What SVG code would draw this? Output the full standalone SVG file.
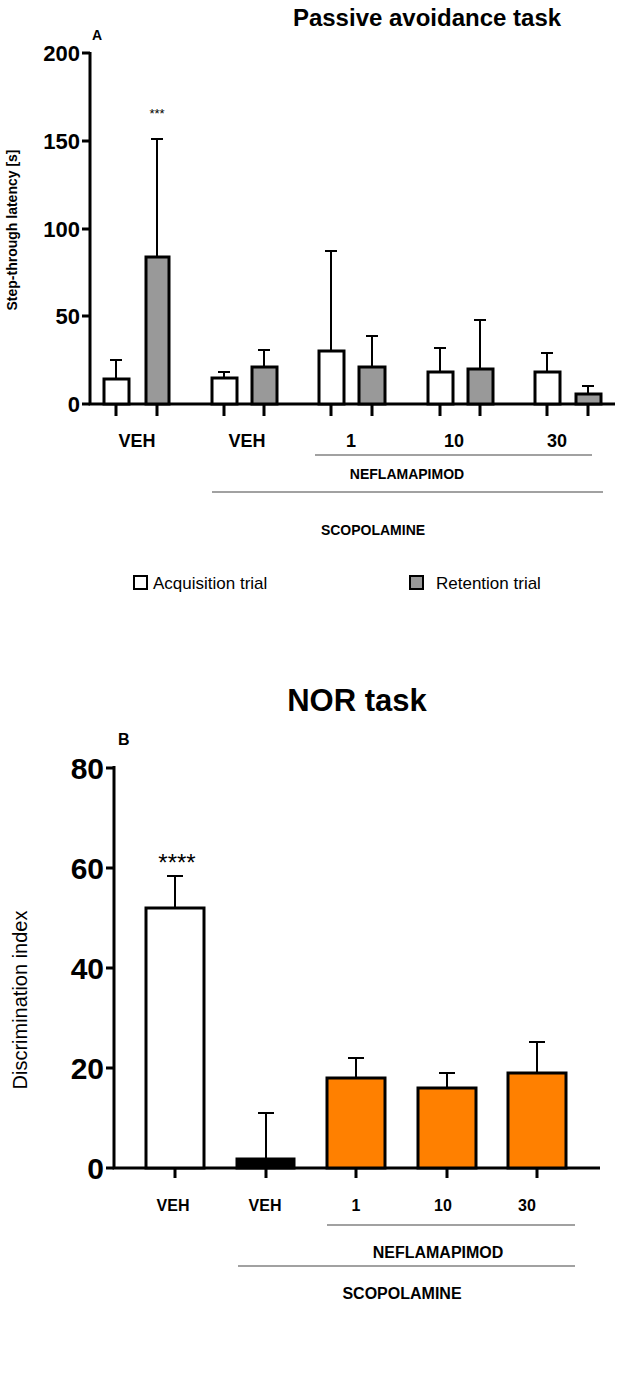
<svg xmlns="http://www.w3.org/2000/svg" width="617" height="1388" viewBox="0 0 617 1388">
<style>
text{font-family:"Liberation Sans",Arial,sans-serif;fill:#000}
.b{font-weight:bold}
.ax{stroke:#000;stroke-width:3;fill:none}
.bar{stroke:#000;stroke-width:3}
.eb{stroke:#000;stroke-width:2;fill:none}
.ln{stroke:#444;stroke-width:1.2}
</style>
<rect width="617" height="1388" fill="#fff"/>
<g id="chartA">
<text x="427" y="26" class="b" font-size="24" text-anchor="middle">Passive avoidance task</text>
<text x="92" y="40" class="b" font-size="14">A</text>
<text transform="translate(17,230) rotate(-90)" class="b" font-size="14" text-anchor="middle">Step-through latency [s]</text>
<g class="b" font-size="22" text-anchor="end">
<text x="80" y="61">200</text><text x="80" y="149">150</text><text x="80" y="237">100</text><text x="80" y="324">50</text><text x="80" y="412">0</text>
</g>
<g class="ax">
<path d="M90 52V404H615"/>
<path d="M82 53H90M82 141H90M82 229H90M82 316H90M82 404H90"/>
<path d="M116 404V416M157 404V416M224 404V416M264 404V416M331 404V416M372 404V416M440 404V416M480 404V416M547 404V416M588 404V416"/>
</g>
<g class="eb">
<path d="M116 379V360M110 360H122"/>
<path d="M157 257V139M151 139H163"/>
<path d="M224 378V372M218 372H230"/>
<path d="M264 367V350M258 350H270"/>
<path d="M331 351V251M325 251H337"/>
<path d="M372 367V336M366 336H378"/>
<path d="M440 372V348M434 348H446"/>
<path d="M480 369V320M474 320H486"/>
<path d="M547 372V353M541 353H553"/>
<path d="M588 393V386M582 386H594"/>
</g>
<g class="bar">
<rect x="104" y="379" width="25" height="25" fill="#fff"/>
<rect x="146" y="257" width="23" height="147" fill="#999"/>
<rect x="212" y="378" width="25" height="26" fill="#fff"/>
<rect x="252" y="367" width="25" height="37" fill="#999"/>
<rect x="319" y="351" width="25" height="53" fill="#fff"/>
<rect x="359" y="367" width="26" height="37" fill="#999"/>
<rect x="428" y="372" width="25" height="32" fill="#fff"/>
<rect x="468" y="369" width="25" height="35" fill="#999"/>
<rect x="535" y="372" width="25" height="32" fill="#fff"/>
<rect x="576" y="394" width="25" height="10" fill="#999"/>
</g>
<text x="157" y="118" font-size="13" text-anchor="middle">***</text>
<g class="b" font-size="18" text-anchor="middle">
<text x="137" y="447">VEH</text><text x="247" y="447">VEH</text><text x="351" y="447">1</text><text x="454" y="447">10</text><text x="557" y="447">30</text>
</g>
<path class="ln" d="M315 455H592M212 492H603"/>
<text x="407" y="479" class="b" font-size="14" text-anchor="middle">NEFLAMAPIMOD</text>
<text x="373" y="535" class="b" font-size="14" text-anchor="middle">SCOPOLAMINE</text>
<rect x="134" y="576" width="13" height="13" fill="#fff" stroke="#000" stroke-width="2"/>
<text x="153" y="589" font-size="17">Acquisition trial</text>
<rect x="410" y="576" width="13" height="13" fill="#999" stroke="#000" stroke-width="2"/>
<text x="436" y="589" font-size="17">Retention trial</text>
</g>
<g id="chartB">
<text x="357" y="711" class="b" font-size="31" text-anchor="middle">NOR task</text>
<text x="118" y="745" class="b" font-size="16">B</text>
<text transform="translate(27,1000) rotate(-90)" font-size="20" text-anchor="middle">Discrimination index</text>
<g class="b" font-size="30" text-anchor="end">
<text x="104" y="779">80</text><text x="104" y="879">60</text><text x="104" y="979">40</text><text x="104" y="1079">20</text><text x="104" y="1179">0</text>
</g>
<g class="ax">
<path d="M114 766V1168H600"/>
<path d="M106 768H114M106 868H114M106 968H114M106 1068H114M106 1168H114"/>
<path d="M175 1168V1178M266 1168V1178M356 1168V1178M447 1168V1178M537 1168V1178"/>
</g>
<g class="eb">
<path d="M175 908V876M167 876H183"/>
<path d="M266 1159V1113M258 1113H274"/>
<path d="M356 1078V1058M348 1058H364"/>
<path d="M447 1088V1073M439 1073H455"/>
<path d="M537 1073V1042M529 1042H545"/>
</g>
<g class="bar">
<rect x="146" y="908" width="58" height="260" fill="#fff"/>
<rect x="237" y="1159" width="57" height="9" fill="#000"/>
<rect x="327" y="1078" width="58" height="90" fill="#FF8000"/>
<rect x="418" y="1088" width="58" height="80" fill="#FF8000"/>
<rect x="508" y="1073" width="58" height="95" fill="#FF8000"/>
</g>
<text x="177" y="871" font-size="24" text-anchor="middle">****</text>
<g class="b" font-size="16" text-anchor="middle">
<text x="173" y="1211">VEH</text><text x="265" y="1211">VEH</text><text x="356" y="1211">1</text><text x="443" y="1211">10</text><text x="527" y="1211">30</text>
</g>
<path class="ln" d="M327 1225H575M238 1266H575"/>
<text x="438" y="1258" class="b" font-size="16" text-anchor="middle">NEFLAMAPIMOD</text>
<text x="402" y="1299" class="b" font-size="16" text-anchor="middle">SCOPOLAMINE</text>
</g>
</svg>
